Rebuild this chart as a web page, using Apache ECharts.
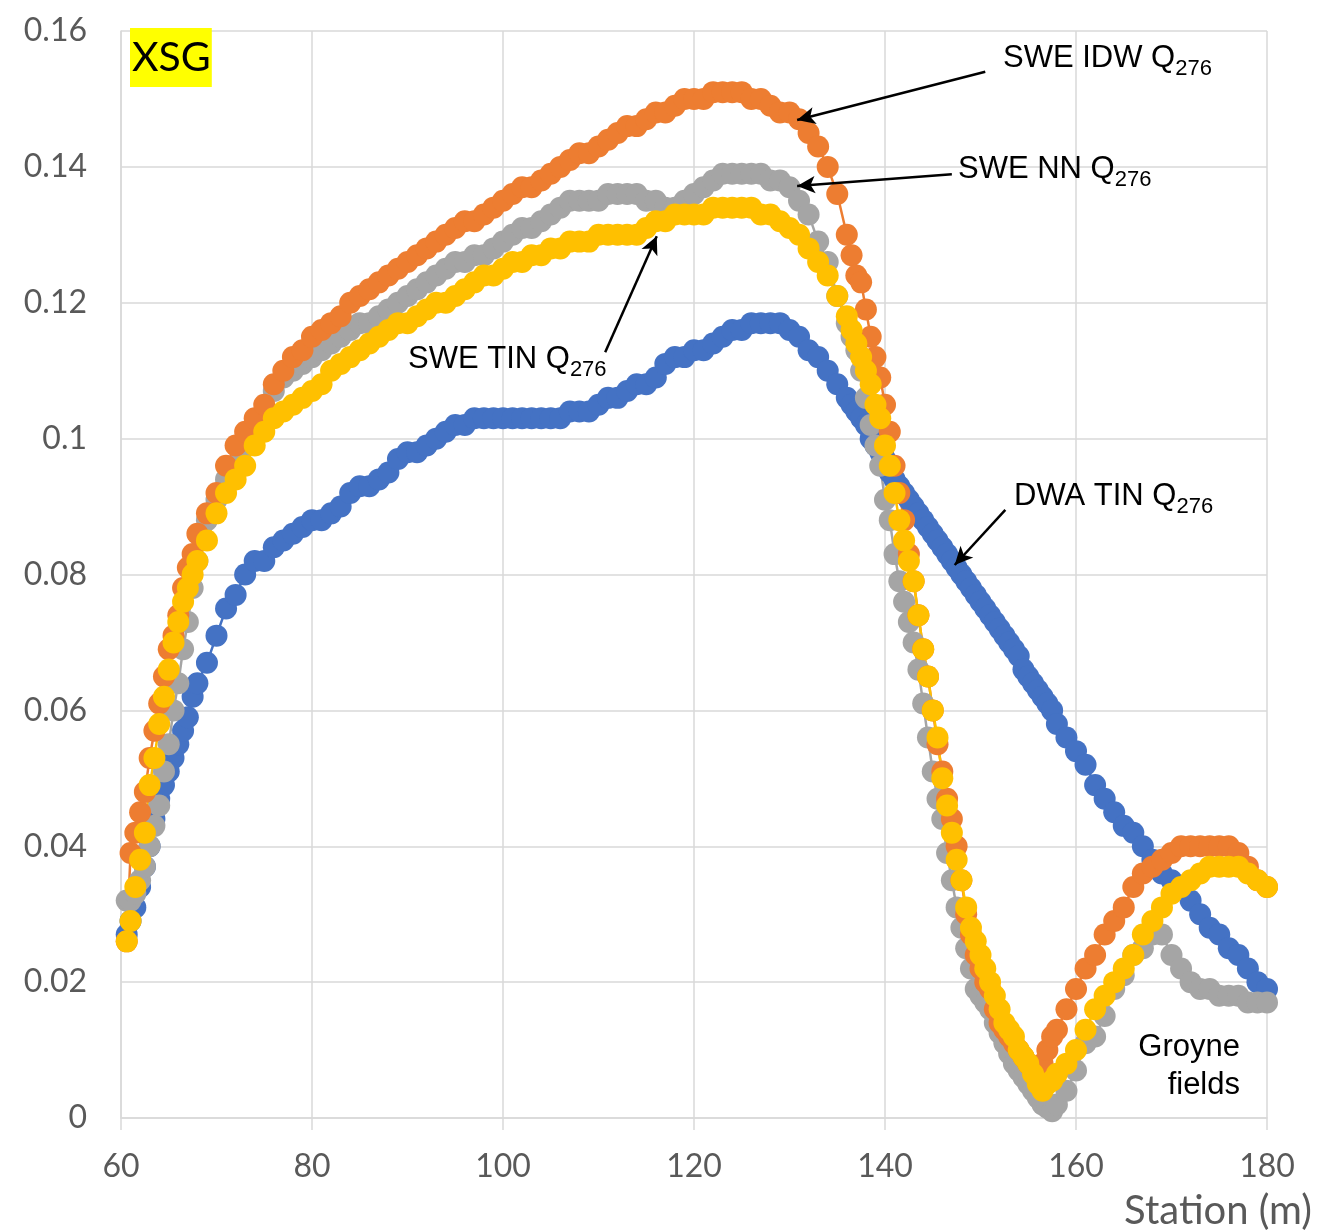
<!DOCTYPE html>
<html>
<head>
<meta charset="utf-8">
<script src="https://cdn.jsdelivr.net/npm/echarts@6/dist/echarts.min.js"></script>
<style>
  html, body { margin: 0; padding: 0; background: #fff; }
  #chartDom { width: 1332px; height: 1230px; }
</style>
</head>
<body>
<div id="chartDom"></div>
<script>
// station (m), shared by all four series
const stations = [
  60.6, 61, 61.5, 62, 62.5, 63, 63.5, 64, 64.5, 65, 65.5, 66, 66.5, 67, 67.5, 68,
  69, 70, 71, 72, 73, 74, 75, 76, 77, 78, 79, 80, 81, 82, 83, 84, 85, 86, 87, 88,
  89, 90, 91, 92, 93, 94, 95, 96, 97, 98, 99, 100, 101, 102, 103, 104, 105, 106, 107, 108,
  109, 110, 111, 112, 113, 114, 115, 116, 117, 118, 119, 120, 121, 122, 123, 124, 125, 126, 127, 128,
  129, 130, 131, 132, 133, 134, 135, 136,
  136.5, 137, 137.5, 138, 138.5, 139, 139.5, 140, 140.5, 141,
  141.5, 142, 142.5, 143, 143.5, 144, 144.5, 145, 145.5, 146,
  146.5, 147, 147.5, 148, 148.5, 149, 149.5, 150, 150.5, 151,
  151.5, 152, 152.5, 153, 153.5, 154, 154.5, 155, 155.5, 156,
  156.5, 157, 157.5, 158,
  159, 160, 161, 162, 163, 164, 165, 166, 167, 168,
  169, 170, 171, 172, 173, 174, 175, 176, 177, 178, 179, 180
]

const dwaTin = [
  0.027, 0.029, 0.031, 0.034, 0.037, 0.040, 0.044, 0.047, 0.049, 0.051, 0.053, 0.055, 0.057, 0.059, 0.062, 0.064,
  0.067, 0.071, 0.075, 0.077, 0.080, 0.082, 0.082, 0.084, 0.085, 0.086,
  0.087, 0.088, 0.088, 0.089, 0.090, 0.092, 0.093, 0.093, 0.094, 0.095,
  0.097, 0.098, 0.098, 0.099, 0.100, 0.101, 0.102, 0.102, 0.103, 0.103,
  0.103, 0.103, 0.103, 0.103, 0.103, 0.103, 0.103, 0.103, 0.104, 0.104,
  0.104, 0.105, 0.106, 0.106, 0.107, 0.108, 0.108, 0.109, 0.111, 0.112,
  0.112, 0.113, 0.113, 0.114, 0.115, 0.116, 0.116, 0.117, 0.117, 0.117,
  0.117, 0.116, 0.115, 0.113, 0.112, 0.110, 0.108, 0.106,
  0.105, 0.104, 0.103, 0.102, 0.100, 0.099, 0.098, 0.097, 0.095, 0.094,
  0.093, 0.092, 0.091, 0.090, 0.089, 0.088, 0.087, 0.086, 0.085, 0.084,
  0.083, 0.082, 0.081, 0.080, 0.079, 0.078, 0.077, 0.076, 0.075, 0.074,
  0.073, 0.072, 0.071, 0.070, 0.069, 0.068, 0.066, 0.065, 0.064, 0.063,
  0.062, 0.061, 0.060, 0.058,
  0.056, 0.054, 0.052, 0.049, 0.047, 0.045, 0.043, 0.042, 0.040, 0.038,
  0.036, 0.035, 0.034, 0.032, 0.030, 0.028, 0.027, 0.025, 0.024, 0.022, 0.020, 0.019
]

const sweNn = [
  0.032, 0.032, 0.033, 0.035, 0.037, 0.040, 0.043, 0.046, 0.051, 0.055, 0.060, 0.064, 0.069, 0.073, 0.078, 0.082,
  0.088, 0.091, 0.094, 0.096, 0.099, 0.102, 0.104, 0.107, 0.109, 0.110,
  0.111, 0.112, 0.113, 0.114, 0.115, 0.116, 0.117, 0.117, 0.118, 0.119,
  0.120, 0.121, 0.122, 0.123, 0.124, 0.125, 0.126, 0.126, 0.127, 0.127,
  0.128, 0.129, 0.130, 0.131, 0.131, 0.132, 0.133, 0.134, 0.135, 0.135,
  0.135, 0.135, 0.136, 0.136, 0.136, 0.136, 0.135, 0.135, 0.134, 0.134,
  0.135, 0.136, 0.137, 0.138, 0.139, 0.139, 0.139, 0.139, 0.139, 0.138,
  0.138, 0.137, 0.135, 0.133, 0.129, 0.126, 0.121, 0.117,
  0.115, 0.113, 0.110, 0.106, 0.102, 0.099, 0.096, 0.091, 0.088, 0.083,
  0.079, 0.076, 0.073, 0.070, 0.066, 0.061, 0.056, 0.051, 0.047, 0.044,
  0.039, 0.035, 0.031, 0.028, 0.025, 0.022, 0.019, 0.018, 0.017, 0.016,
  0.014, 0.0125, 0.011, 0.0095, 0.008, 0.007, 0.006, 0.005, 0.004, 0.003,
  0.002, 0.0015, 0.001, 0.002,
  0.004, 0.007, 0.011, 0.012, 0.015, 0.019, 0.021, 0.024, 0.025, 0.027,
  0.027, 0.024, 0.022, 0.020, 0.019, 0.019, 0.018, 0.018, 0.018, 0.017, 0.017, 0.017
]

const sweIdw = [
  0.026, 0.039, 0.042, 0.045, 0.048, 0.053, 0.057, 0.061, 0.065, 0.069, 0.071, 0.074, 0.078, 0.081, 0.083, 0.086,
  0.089, 0.092, 0.096, 0.099, 0.101, 0.103, 0.105, 0.108, 0.110, 0.112,
  0.113, 0.115, 0.116, 0.117, 0.118, 0.120, 0.121, 0.122, 0.123, 0.124,
  0.125, 0.126, 0.127, 0.128, 0.129, 0.130, 0.131, 0.132, 0.132, 0.133,
  0.134, 0.135, 0.136, 0.137, 0.137, 0.138, 0.139, 0.140, 0.141, 0.142,
  0.142, 0.143, 0.144, 0.145, 0.146, 0.146, 0.147, 0.148, 0.148, 0.149,
  0.150, 0.150, 0.150, 0.151, 0.151, 0.151, 0.151, 0.150, 0.150, 0.149,
  0.148, 0.148, 0.147, 0.145, 0.143, 0.140, 0.136, 0.130,
  0.127, 0.124, 0.123, 0.119, 0.115, 0.112, 0.109, 0.105, 0.101, 0.096,
  0.092, 0.088, 0.083, 0.079, 0.074, 0.069, 0.065, 0.060, 0.055, 0.051,
  0.047, 0.044, 0.040, 0.035, 0.030, 0.027, 0.024, 0.022, 0.020, 0.019,
  0.016, 0.014, 0.013, 0.012, 0.011, 0.010, 0.009, 0.008, 0.0075, 0.006,
  0.008, 0.010, 0.012, 0.013,
  0.016, 0.019, 0.022, 0.024, 0.027, 0.029, 0.031, 0.034, 0.036, 0.037,
  0.038, 0.039, 0.040, 0.040, 0.040, 0.040, 0.040, 0.040, 0.039, 0.037, 0.035, 0.034
]

const sweTin = [
  0.026, 0.029, 0.034, 0.038, 0.042, 0.049, 0.053, 0.058, 0.062, 0.066, 0.070, 0.073, 0.076, 0.078, 0.080, 0.082,
  0.085, 0.089, 0.092, 0.094, 0.096, 0.099, 0.101, 0.103, 0.104, 0.105,
  0.106, 0.107, 0.108, 0.110, 0.111, 0.112, 0.113, 0.114, 0.115, 0.116,
  0.117, 0.117, 0.118, 0.119, 0.120, 0.120, 0.121, 0.122, 0.123, 0.124,
  0.124, 0.125, 0.126, 0.126, 0.127, 0.127, 0.128, 0.128, 0.129, 0.129,
  0.129, 0.130, 0.130, 0.130, 0.130, 0.130, 0.131, 0.132, 0.132, 0.133,
  0.133, 0.133, 0.133, 0.134, 0.134, 0.134, 0.134, 0.134, 0.133, 0.133,
  0.132, 0.131, 0.130, 0.128, 0.126, 0.124, 0.121, 0.118,
  0.116, 0.114, 0.112, 0.110, 0.108, 0.105, 0.103, 0.099, 0.096, 0.092,
  0.088, 0.085, 0.082, 0.079, 0.074, 0.069, 0.065, 0.060, 0.056, 0.050,
  0.046, 0.042, 0.038, 0.035, 0.031, 0.028, 0.026, 0.024, 0.022, 0.020,
  0.018, 0.016, 0.014, 0.013, 0.012, 0.010, 0.009, 0.008, 0.0065, 0.005,
  0.004, 0.005, 0.0055, 0.0065,
  0.008, 0.010, 0.013, 0.016, 0.018, 0.020, 0.022, 0.024, 0.027, 0.029,
  0.031, 0.033, 0.034, 0.035, 0.036, 0.037, 0.037, 0.037, 0.037, 0.036, 0.035, 0.034
]

// arrows: [tail, head] in data coords
const arrows = [
  [[150.5, 0.154], [130.8, 0.1469]],
  [[147.0, 0.1389], [130.8, 0.1372]],
  [[110.7, 0.1127], [116.1, 0.1298]],
  [[152.6, 0.0895], [147.3, 0.0814]]
]

const chart = echarts.init(document.getElementById('chartDom'))

function pairs (ys) {
  return stations.map((s, i) => [s, ys[i]])
}

function dots (name, color, ys) {
  return {
    name: name,
    type: 'line',
    data: pairs(ys),
    symbol: 'circle',
    symbolSize: 22,
    showSymbol: true,
    showAllSymbol: true,
    itemStyle: { color: color, borderWidth: 0 },
    lineStyle: { color: color, width: 2.5 },
    emphasis: { disabled: true }
  }
}

// measure text so the subscript sits right after the main part
const ctx = document.createElement('canvas').getContext('2d')
function textWidth (txt, size) {
  ctx.font = size + 'px "Liberation Sans"'
  return ctx.measureText(txt).width
}

function note (main, low, left, midY) {
  const w = textWidth(main, 31)
  return [
    {
      type: 'text', x: left, y: midY, z: 100,
      style: { text: main, fontFamily: 'Liberation Sans', fontSize: 31, fill: '#000', verticalAlign: 'middle' }
    },
    {
      type: 'text', x: left + w, y: midY + 11, z: 100,
      style: { text: low, fontFamily: 'Liberation Sans', fontSize: 22, fill: '#000', verticalAlign: 'middle' }
    }
  ]
}

const option = {
  animation: false,
  backgroundColor: '#fff',
  grid: { left: 121, right: 65, top: 31, bottom: 112, containLabel: false },
  xAxis: {
    type: 'value',
    min: 60,
    max: 180,
    interval: 20,
    axisLine: { show: true, lineStyle: { color: '#d9d9d9', width: 1.5 } },
    axisTick: { show: true, length: 12, lineStyle: { color: '#d9d9d9', width: 1.5 } },
    axisLabel: { color: '#595959', fontFamily: 'Lato', fontSize: 32, margin: 33 },
    splitLine: { show: true, lineStyle: { color: '#d9d9d9', width: 1.5 } }
  },
  yAxis: {
    type: 'value',
    min: 0,
    max: 0.16,
    interval: 0.02,
    axisLine: { show: true, lineStyle: { color: '#d9d9d9', width: 1.5 } },
    axisTick: { show: false },
    axisLabel: {
      color: '#595959', fontFamily: 'Lato', fontSize: 32, margin: 34,
      formatter: v => String(+v.toFixed(2))
    },
    splitLine: { show: true, lineStyle: { color: '#d9d9d9', width: 1.5 } }
  },
  series: [
    dots('DWA TIN Q276', '#4472C4', dwaTin),
    dots('SWE NN Q276', '#A5A5A5', sweNn),
    dots('SWE IDW Q276', '#ED7D31', sweIdw),
    dots('SWE TIN Q276', '#FFC000', sweTin),
    {
      name: 'arrows',
      type: 'line',
      data: [],
      z: 10,
      markLine: {
        silent: true,
        animation: false,
        symbol: ['none', 'arrow'],
        symbolSize: [13, 18],
        label: { show: false },
        lineStyle: { color: '#000', width: 2.5, type: 'solid' },
        emphasis: { disabled: true },
        data: arrows.map(a => [{ coord: a[0] }, { coord: a[1] }])
      }
    }
  ],
  graphic: [
    {
      type: 'text',
      left: 130,
      top: 28,
      z: 100,
      style: {
        text: 'XSG',
        fontFamily: 'Lato',
        fontSize: 41,
        lineHeight: 49,
        fill: '#000',
        backgroundColor: '#FFFF00',
        padding: [5, 1, 5, 2]
      }
    },
    ...note('SWE IDW Q', '276', 1003, 58),
    ...note('SWE NN Q', '276', 958, 169),
    ...note('SWE TIN Q', '276', 408, 359),
    ...note('DWA TIN Q', '276', 1014, 496),
    {
      type: 'text',
      x: 1240,
      y: 1066,
      z: 100,
      style: {
        text: 'Groyne\nfields',
        align: 'right',
        verticalAlign: 'middle',
        fontFamily: 'Liberation Sans',
        fontSize: 31,
        lineHeight: 38,
        fill: '#000'
      }
    },
    {
      type: 'text',
      x: 1312,
      y: 1211,
      z: 100,
      style: {
        text: 'Station (m)',
        align: 'right',
        verticalAlign: 'middle',
        fontFamily: 'Lato',
        fontSize: 40,
        fill: '#595959'
      }
    }
  ]
}

chart.setOption(option)
</script>
</body>
</html>
